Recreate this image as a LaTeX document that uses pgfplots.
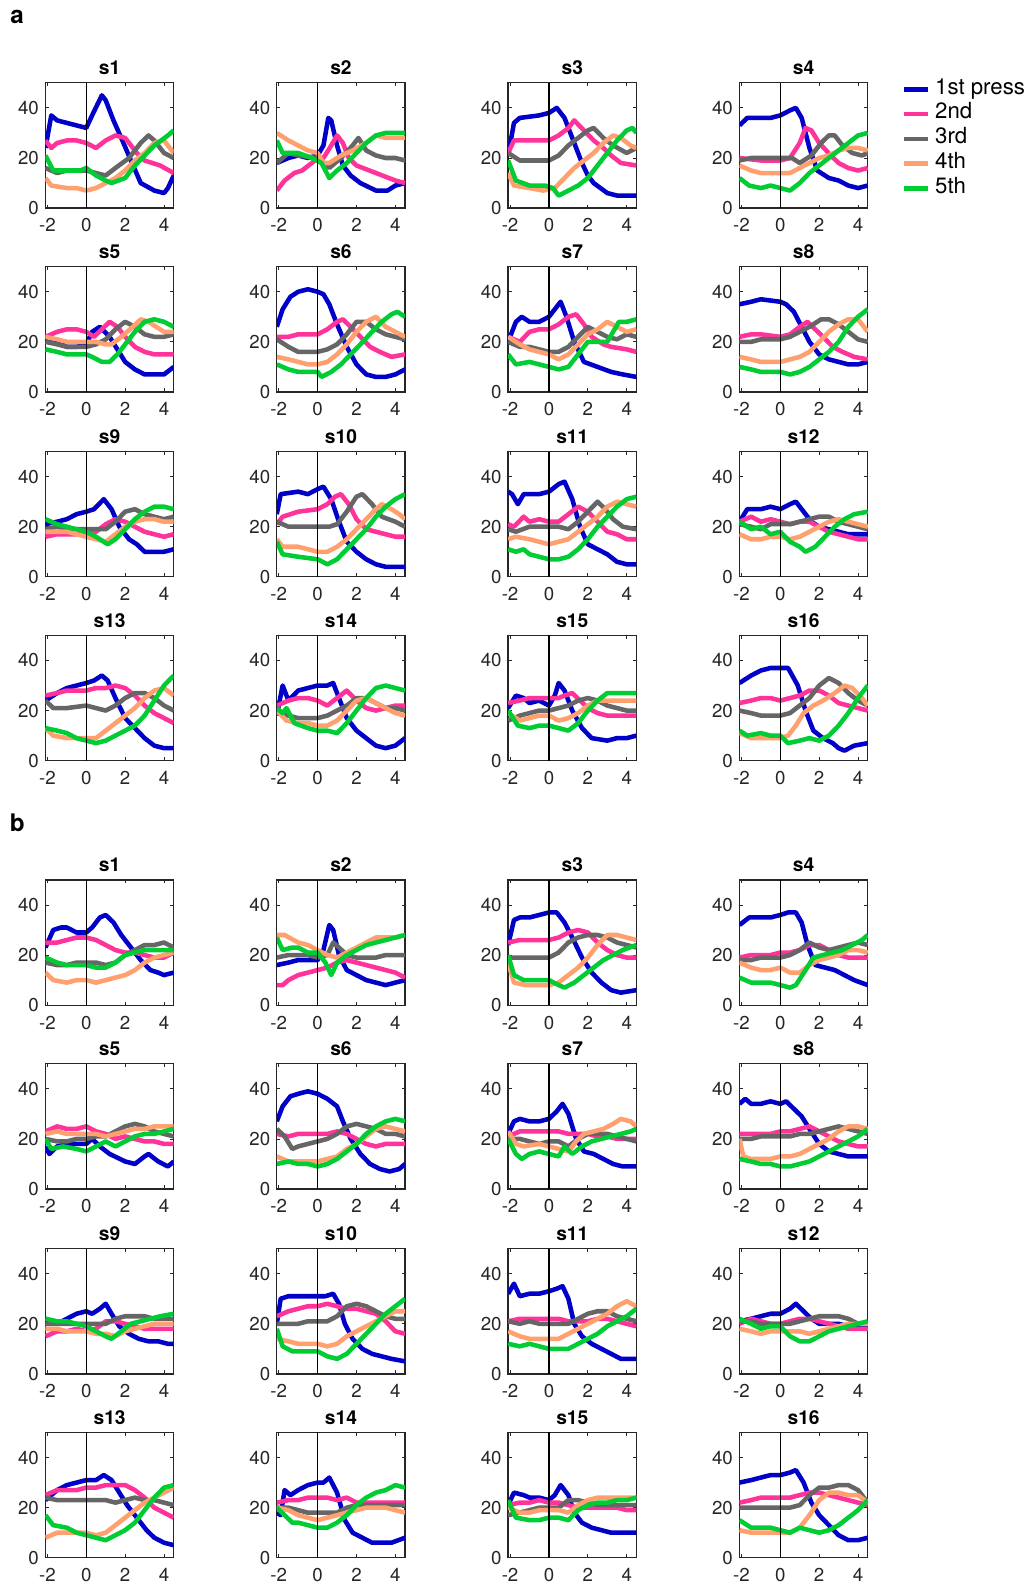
\documentclass[border=0pt]{standalone}
\usepackage{pgfplots}
\pgfplotsset{compat=1.18}
\usepackage{fontspec}
\setmainfont{TeX Gyre Heros}
\definecolor{cB}{RGB}{0,0,200}
\definecolor{cP}{RGB}{255,51,153}
\definecolor{cG}{RGB}{102,102,102}
\definecolor{cO}{RGB}{255,160,110}
\definecolor{cN}{RGB}{0,204,51}
\definecolor{cT}{RGB}{38,38,38}
\pgfplotsset{panel/.style={
 scale only axis, width=127pt, height=124pt, anchor=north west,
 xmin=-2.1, xmax=4.5, ymin=0, ymax=50,
 xtick={-2,0,2,4}, xticklabels={-2,0,2,4},
 ytick={0,20,40}, yticklabels={0,20,40},
 tick align=inside, major tick length=3.5pt,
 tick style={cT, line width=0.8pt},
 axis line style={cT, line width=1.3pt},
 ticklabel style={font=\fontsize{18.5}{18.5}\selectfont, text=cT},
 xticklabel style={yshift=-7pt},
 yticklabel style={xshift=-3pt},
 title style={font=\bfseries\fontsize{19}{19}\selectfont, at={(0.5,1)}, anchor=base, yshift=2pt},
 every axis plot/.append style={line width=4.5pt, line join=round},
}}
\newcommand{\zline}{\addplot[black, line width=1.4pt, forget plot] coordinates {(0,0) (0,50)};}
\begin{document}
\begin{tikzpicture}
\useasboundingbox (0,0) rectangle (1025pt,-1568pt);
\node[font=\bfseries\fontsize{24}{24}\selectfont] at (17pt,-17pt) {a};
\node[font=\bfseries\fontsize{24}{24}\selectfont] at (17pt,-814pt) {b};
% ---------------- a, row 1
\begin{axis}[panel, at={(45pt,-82pt)}, title={s1}]
\addplot[cB] coordinates {(-2.1,24)(-1.8,37)(-1.5,35)(-1,34)(-0.5,33)(0,32)(0.3,37)(0.8,45)(1.0,43)(1.4,35)(1.8,28)(2.3,19)(2.8,10)(3.5,7)(4,6)(4.2,8)(4.5,13)};
\addplot[cP] coordinates {(-2.1,27)(-1.8,24)(-1.5,26)(-1,27)(-0.5,27)(0,26)(0.5,24)(1,27)(1.5,29)(2,28)(2.6,22)(3,19)(3.8,17)(4.5,14)};
\addplot[cG] coordinates {(-2.1,16)(-1.5,14)(-1,15)(0,15)(0.5,14)(1,13)(1.5,16)(2.2,20)(2.8,26)(3.2,29)(3.5,27)(4,22)(4.5,20)};
\addplot[cO] coordinates {(-2.1,12)(-1.8,9)(-1,8)(-0.5,8)(0,7)(0.5,8)(1,10)(1.5,12)(2,15)(2.5,19)(3,22)(3.5,26)(4,27)(4.5,22)};
\addplot[cN] coordinates {(-2.1,21)(-1.7,15)(-1,15)(-0.3,15)(0,16)(0.5,13)(1,11)(1.3,10)(2,12)(2.5,17)(3,21)(3.5,25)(4.2,29)(4.5,31)};
\zline
\end{axis}
\begin{axis}[panel, at={(274pt,-82pt)}, title={s2}]
\addplot[cB] coordinates {(-2.1,18)(-1.5,20)(-1,21)(-0.5,20)(0,21)(0.3,25)(0.55,36)(0.7,35)(1,25)(1.3,17)(1.7,13)(2.2,10)(3,7)(3.6,7)(4,9)(4.5,10)};
\addplot[cP] coordinates {(-2.1,7)(-1.7,11)(-1.2,14)(-0.8,15)(-0.3,18)(0,20)(0.3,20)(0.7,25)(1,29)(1.3,26)(1.6,20)(2,17)(3,14)(4,11)(4.5,10)};
\addplot[cG] coordinates {(-2.1,18)(-1.5,22)(-1,21)(0,20)(0.3,18)(0.6,16)(1.2,20)(1.8,25)(2.1,28)(2.5,23)(3,21)(3.5,20)(4,20)(4.5,19)};
\addplot[cO] coordinates {(-2.1,30)(-1.5,27)(-1,25)(-0.5,23)(0,22)(0.3,18)(0.6,18)(1.2,21)(1.8,23)(2.5,26)(3,29)(3.5,28)(4.5,28)};
\addplot[cN] coordinates {(-2.1,27)(-1.8,22)(-1,22)(-0.3,20)(0.2,18)(0.6,12)(1,15)(1.5,18)(2,22)(2.5,26)(3,29)(3.5,30)(4.5,30)};
\zline
\end{axis}
\begin{axis}[panel, at={(503pt,-82pt)}, title={s3}]
\addplot[cB] coordinates {(-2.1,21)(-1.8,34)(-1.5,36)(-0.5,37)(0,38)(0.4,40)(0.8,36)(1.2,28)(1.7,18)(2,13)(2.3,10)(3,6)(3.5,5)(4.5,5)};
\addplot[cP] coordinates {(-2.1,22)(-1.8,27)(-1,27)(-0.5,27)(0,27)(0.5,29)(1,32)(1.3,35)(1.8,31)(2.3,27)(2.8,24)(3.2,21)(3.7,18)(4.5,17)};
\addplot[cG] coordinates {(-2.1,22)(-1.5,19)(-0.5,19)(0,19)(0.5,21)(1,25)(1.5,28)(2,31)(2.3,32)(2.8,28)(3.3,25)(4,22)(4.5,24)};
\addplot[cO] coordinates {(-2.1,14)(-1.8,9)(-1,8)(-0.3,7)(0.3,8)(0.8,12)(1.3,16)(1.8,19)(2.3,22)(2.8,26)(3.3,29)(3.7,28)(4.2,25)(4.5,24)};
\addplot[cN] coordinates {(-2.1,19)(-1.7,11)(-1,9)(-0.2,9)(0.2,8)(0.5,5)(1,7)(1.5,9)(2,12)(2.5,17)(3,22)(3.5,27)(4,31)(4.3,32)(4.5,30)};
\zline
\end{axis}
\begin{axis}[panel, at={(732pt,-82pt)}, title={s4},
 legend style={at={(1,1)}, anchor=north west, xshift=33pt, yshift=6pt, draw=none, fill=none,
   font=\fontsize{22}{22}\selectfont, inner sep=0pt, row sep=0pt, column sep=4pt,
   nodes={inner sep=1pt, text height=16pt, text depth=6.5pt}},
 legend cell align=left,
 legend image code/.code={\draw[#1, line width=4.5pt] (0pt,0pt) -- (24pt,0pt);}]
\addplot[cB] coordinates {(-2.1,33)(-1.7,36)(-1,36)(-0.5,36)(0,37)(0.5,39)(0.8,40)(1.1,36)(1.5,24)(1.9,15)(2.5,12)(3,11)(3.5,9)(4,8)(4.5,9)};
\addlegendentry{1st press}
\addplot[cP] coordinates {(-2.1,20)(-1,19)(0,19)(0.5,20)(1,26)(1.3,32)(1.6,31)(2,26)(2.6,21)(3,18)(3.5,16)(4,15)(4.5,16)};
\addlegendentry{2nd}
\addplot[cG] coordinates {(-2.1,19)(-1.5,20)(-1,20)(0,20)(0.6,20)(1,18)(1.6,21)(2.1,26)(2.5,29)(2.8,29)(3.2,25)(3.7,22)(4.2,21)(4.5,22)};
\addlegendentry{3rd}
\addplot[cO] coordinates {(-2.1,17)(-1.5,15)(-1,14)(0,14)(0.5,14)(1,16)(1.5,18)(2,20)(2.5,21)(3,23)(3.5,24)(4,24)(4.5,23)};
\addlegendentry{4th}
\addplot[cN] coordinates {(-2.1,12)(-1.6,9)(-1,8)(-0.5,9)(0,8)(0.5,7)(1,10)(1.5,14)(2,17)(2.5,20)(3,23)(3.5,26)(4,29)(4.5,30)};
\addlegendentry{5th}
\zline
\end{axis}
% ---------------- a, row 2
\begin{axis}[panel, at={(45pt,-264pt)}, title={s5}]
\addplot[cB] coordinates {(-2.1,21)(-1.5,20)(-1,18)(-0.5,18)(0,19)(0.3,24)(0.7,26)(1.2,22)(1.6,17)(2,12)(2.5,9)(3,7)(3.5,7)(4,7)(4.5,10)};
\addplot[cP] coordinates {(-2.1,22)(-1.5,24)(-1,25)(-0.5,25)(0,24)(0.4,22)(0.8,25)(1.2,28)(1.6,26)(2,22)(2.5,18)(3,16)(3.5,15)(4.5,15)};
\addplot[cG] coordinates {(-2.1,20)(-1.5,19)(-1,18)(0,18)(0.5,19)(1,21)(1.5,25)(2,28)(2.5,26)(3,23)(3.5,22)(4,22)(4.5,23)};
\addplot[cO] coordinates {(-2.1,22)(-1.5,21)(-1,20)(0,20)(0.5,20)(1,19)(1.3,19)(1.8,22)(2.4,26)(2.8,29)(3.2,28)(3.6,26)(4,24)(4.5,24)};
\addplot[cN] coordinates {(-2.1,17)(-1.5,16)(-1,15)(0,15)(0.3,14)(0.8,12)(1.2,12)(1.6,15)(2,19)(2.5,24)(3,28)(3.5,29)(4,28)(4.5,26)};
\zline
\end{axis}
\begin{axis}[panel, at={(274pt,-264pt)}, title={s6}]
\addplot[cB] coordinates {(-2.1,26)(-1.8,33)(-1.4,38)(-1,40)(-0.5,41)(0,40)(0.3,39)(0.6,35)(1,27)(1.5,18)(2,11)(2.5,7)(3,6)(3.5,6)(4,7)(4.5,9)};
\addplot[cP] coordinates {(-2.1,22)(-1.5,22)(-1,23)(0,23)(0.5,25)(1,28)(1.3,29)(1.7,26)(2.2,22)(2.7,18)(3.2,16)(3.8,14)(4.5,15)};
\addplot[cG] coordinates {(-2.1,21)(-1.5,18)(-1,16)(0,16)(0.5,17)(1,19)(1.5,23)(2,28)(2.5,28)(3,25)(3.5,23)(4,22)(4.5,21)};
\addplot[cO] coordinates {(-2.1,14)(-1.5,13)(-1,12)(-0.5,11)(0,11)(0.5,12)(1,15)(1.5,19)(2,24)(2.5,28)(3,30)(3.5,26)(4,24)(4.5,22)};
\addplot[cN] coordinates {(-2.1,11)(-1.5,9)(-1,8)(0,8)(0.2,6)(0.7,8)(1.2,11)(1.7,15)(2.2,19)(2.8,24)(3.3,28)(3.8,31)(4.1,32)(4.5,30)};
\zline
\end{axis}
\begin{axis}[panel, at={(503pt,-264pt)}, title={s7}]
\addplot[cB] coordinates {(-2.1,20)(-1.7,28)(-1.4,30)(-1,28)(-0.5,28)(0,30)(0.4,34)(0.6,36)(0.9,30)(1.3,20)(1.8,12)(2.5,10)(3.2,8)(3.8,7)(4.5,6)};
\addplot[cP] coordinates {(-2.1,22)(-1.5,20)(-1,24)(-0.5,25)(0,25)(0.5,27)(1,30)(1.4,31)(1.8,27)(2.2,22)(2.8,19)(3.2,18)(4,17)(4.5,16)};
\addplot[cG] coordinates {(-2.1,20)(-1.5,18)(-1,18)(-0.5,17)(0,16)(0.5,16)(1,18)(1.5,22)(2,26)(2.5,24)(3,22)(3.5,21)(4,23)(4.5,22)};
\addplot[cO] coordinates {(-2.1,22)(-1.5,19)(-1,17)(-0.5,16)(0,15)(0.5,13)(1,15)(1.5,19)(2,23)(2.5,25)(3,28)(3.5,26)(4,24)(4.5,25)};
\addplot[cN] coordinates {(-2.1,15)(-1.7,11)(-1,12)(-0.5,11)(0,10)(0.5,9)(1,10)(1.5,15)(2,20)(2.5,20)(3,20)(3.3,24)(3.6,28)(4,28)(4.5,29)};
\zline
\end{axis}
\begin{axis}[panel, at={(732pt,-264pt)}, title={s8}]
\addplot[cB] coordinates {(-2.1,35)(-1.5,36)(-1,37)(0,36)(0.3,35)(0.7,32)(1.1,26)(1.5,20)(2,15)(2.5,13)(3,12)(3.5,11)(4,11)(4.5,12)};
\addplot[cP] coordinates {(-2.1,22)(-1.5,23)(-1,23)(0,22)(0.5,23)(1,26)(1.4,28)(1.8,25)(2.2,22)(2.7,18)(3.2,16)(3.8,14)(4.5,13)};
\addplot[cG] coordinates {(-2.1,20)(-1.5,20)(-1,21)(0,21)(0.5,22)(1,24)(1.5,26)(2.1,29)(2.5,29)(3,27)(3.5,24)(4,21)(4.5,20)};
\addplot[cO] coordinates {(-2.1,14)(-1.5,13)(-1,12)(0,12)(0.5,13)(1,14)(1.5,16)(2,20)(2.5,24)(3,27)(3.5,29)(4,29)(4.5,24)};
\addplot[cN] coordinates {(-2.1,10)(-1.5,9)(-1,8)(0,8)(0.5,7)(1,8)(1.5,10)(2,13)(2.5,16)(3,20)(3.5,26)(4,30)(4.5,33)};
\zline
\end{axis}
% ---------------- a, row 3
\begin{axis}[panel, at={(45pt,-447pt)}, title={s9}]
\addplot[cB] coordinates {(-2.1,21)(-1.5,22)(-1,23)(-0.5,25)(0,26)(0.4,27)(0.9,31)(1.3,27)(1.7,20)(2.2,15)(2.6,13)(3,10)(3.5,10)(4,10)(4.5,11)};
\addplot[cP] coordinates {(-2.1,16)(-1.5,17)(-1,17)(0,17)(0.5,18)(1,21)(1.5,23)(2,22)(2.5,20)(3,18)(3.5,17)(4,16)(4.5,17)};
\addplot[cG] coordinates {(-2.1,19)(-1.5,20)(-1,19)(0,19)(0.5,19)(1,19)(1.5,22)(2,26)(2.5,27)(3,25)(3.5,24)(4,23)(4.5,24)};
\addplot[cO] coordinates {(-2.1,18)(-1.5,18)(-1,18)(-0.5,17)(0,16)(0.5,15)(1,14)(1.5,17)(2,20)(2.5,22)(3,23)(3.5,23)(4,22)(4.5,22)};
\addplot[cN] coordinates {(-2.1,23)(-1.5,21)(-1,20)(-0.5,19)(0,18)(0.5,16)(1.1,13)(1.5,15)(2,19)(2.5,23)(3,26)(3.5,28)(4,28)(4.5,27)};
\zline
\end{axis}
\begin{axis}[panel, at={(274pt,-447pt)}, title={s10}]
\addplot[cB] coordinates {(-2.1,25)(-1.9,33)(-1,34)(-0.5,33)(0,35)(0.3,36)(0.7,31)(1.1,22)(1.5,14)(2,10)(2.5,7)(3,5)(3.5,4)(4.5,4)};
\addplot[cP] coordinates {(-2.1,21)(-1.8,24)(-1,26)(0,27)(0.5,29)(0.9,32)(1.2,33)(1.6,29)(2,23)(2.5,19)(3,18)(3.5,17)(4,16)(4.5,16)};
\addplot[cG] coordinates {(-2.1,22)(-1.5,20)(-1,20)(0,20)(0.6,20)(1,21)(1.5,26)(2,32)(2.3,33)(2.8,29)(3.3,24)(4,22)(4.5,20)};
\addplot[cO] coordinates {(-2.1,15)(-1.8,12)(-1,12)(-0.5,11)(0,10)(0.5,10)(1,12)(1.5,15)(2,19)(2.5,23)(3,27)(3.3,29)(3.8,27)(4.2,25)(4.5,23)};
\addplot[cN] coordinates {(-2.1,14)(-1.8,9)(-1,8)(0,7)(0.5,5)(1,7)(1.5,11)(2,15)(2.5,19)(3,24)(3.5,28)(4,31)(4.5,33)};
\zline
\end{axis}
\begin{axis}[panel, at={(503pt,-447pt)}, title={s11}]
\addplot[cB] coordinates {(-2.1,34)(-1.9,33)(-1.6,29)(-1.3,33)(-0.5,33)(0,34)(0.5,37)(0.8,38)(1.2,31)(1.6,20)(2,13)(2.5,11)(3,9)(3.5,6)(4,5)(4.5,5)};
\addplot[cP] coordinates {(-2.1,21)(-1.8,20)(-1.3,24)(-1,22)(-0.5,23)(0,22)(0.5,22)(1,25)(1.5,28)(2,26)(2.5,22)(3,18)(3.5,17)(4,15)(4.5,15)};
\addplot[cG] coordinates {(-2.1,19)(-1.7,18)(-1,20)(0,20)(0.5,20)(1,19)(1.5,22)(2,26)(2.5,30)(2.9,27)(3.3,23)(3.8,20)(4.5,19)};
\addplot[cO] coordinates {(-2.1,15)(-1.7,16)(-1,15)(-0.5,14)(0,13)(0.5,14)(1,15)(1.5,18)(2,21)(2.5,24)(3,28)(3.5,30)(4,29)(4.5,28)};
\addplot[cN] coordinates {(-2.1,11)(-1.7,10)(-1.3,11)(-1,9)(-0.5,8)(0,7)(0.5,7)(1,8)(1.5,11)(2,15)(2.5,20)(3,24)(3.5,28)(4,31)(4.5,32)};
\zline
\end{axis}
\begin{axis}[panel, at={(732pt,-447pt)}, title={s12}]
\addplot[cB] coordinates {(-2.1,22)(-1.7,27)(-1,27)(-0.5,28)(0,27)(0.5,29)(0.8,30)(1.2,26)(1.6,22)(2,20)(2.5,19)(3,18)(3.5,17)(4.5,17)};
\addplot[cP] coordinates {(-2.1,22)(-1.5,24)(-1,22)(-0.5,23)(0,22)(0.5,21)(1,22)(1.5,22)(2,20)(2.5,18)(3,17)(3.5,16)(4,15)(4.5,15)};
\addplot[cG] coordinates {(-2.1,21)(-1.5,20)(-1,19)(-0.5,21)(0,21)(0.5,21)(1,22)(1.5,23)(2,24)(2.5,24)(3,22)(3.5,21)(4,20)(4.5,19)};
\addplot[cO] coordinates {(-2.1,17)(-1.5,15)(-1,15)(-0.5,16)(0,16)(0.5,15)(1,16)(1.5,18)(2,20)(2.5,22)(3,23)(3.5,22)(4,21)(4.5,20)};
\addplot[cN] coordinates {(-2.1,22)(-1.5,19)(-1,20)(-0.5,17)(0,18)(0.5,14)(1,12)(1.3,10)(1.8,12)(2.3,16)(2.8,20)(3.3,23)(3.8,25)(4.5,26)};
\zline
\end{axis}
% ---------------- a, row 4
\begin{axis}[panel, at={(45pt,-629pt)}, title={s13}]
\addplot[cB] coordinates {(-2.1,24)(-1.5,27)(-1,29)(-0.5,30)(0,31)(0.4,32)(0.8,34)(1.1,32)(1.5,25)(2,17)(2.5,13)(3,9)(3.5,6)(4,5)(4.5,5)};
\addplot[cP] coordinates {(-2.1,26)(-1.5,27)(-1,28)(0,28)(0.5,29)(1,29)(1.5,30)(2,29)(2.5,26)(3,22)(3.5,19)(4,17)(4.5,15)};
\addplot[cG] coordinates {(-2.1,24)(-1.7,21)(-1,21)(0,22)(0.5,21)(1,20)(1.5,22)(2,25)(2.5,27)(3,27)(3.5,25)(4,22)(4.5,20)};
\addplot[cO] coordinates {(-2.1,13)(-1.7,10)(-1,9)(0,9)(0.5,9)(1,12)(1.5,15)(2,18)(2.5,21)(3,25)(3.5,28)(4,29)(4.5,26)};
\addplot[cN] coordinates {(-2.1,13)(-1.5,12)(-1,11)(-0.5,9)(0,8)(0.5,7)(1,8)(1.5,10)(2,12)(2.5,14)(3,18)(3.5,24)(4,30)(4.5,34)};
\zline
\end{axis}
\begin{axis}[panel, at={(274pt,-629pt)}, title={s14}]
\addplot[cB] coordinates {(-2.1,18)(-1.8,30)(-1.5,24)(-1,28)(-0.5,29)(0,30)(0.5,30)(0.8,31)(1.1,25)(1.5,17)(2,12)(2.5,9)(3,6)(3.5,5)(4,6)(4.5,9)};
\addplot[cP] coordinates {(-2.1,22)(-1.5,24)(-1,25)(-0.5,25)(0,24)(0.5,22)(1,25)(1.5,28)(2,24)(2.5,21)(3,20)(3.5,21)(4,22)(4.5,22)};
\addplot[cG] coordinates {(-2.1,19)(-1.5,18)(-1,17)(0,17)(0.5,18)(1,20)(1.5,22)(2,25)(2.5,25)(3,23)(3.5,21)(4,21)(4.5,20)};
\addplot[cO] coordinates {(-2.1,20)(-1.6,16)(-1,15)(-0.5,15)(0,14)(0.5,14)(1,16)(1.5,20)(2,24)(2.5,25)(3,23)(3.5,21)(4,19)(4.5,18)};
\addplot[cN] coordinates {(-2.1,21)(-1.8,19)(-1.6,21)(-1.2,15)(-0.5,13)(0,12)(0.5,12)(1,11)(1.5,15)(2,20)(2.5,25)(3,29)(3.5,30)(4,29)(4.5,28)};
\zline
\end{axis}
\begin{axis}[panel, at={(503pt,-629pt)}, title={s15}]
\addplot[cB] coordinates {(-2.1,21)(-1.7,26)(-1.3,25)(-1,23)(-0.5,24)(0,22)(0.3,26)(0.5,31)(0.8,28)(1.2,20)(1.7,13)(2.2,9)(3,8)(3.5,9)(4,9)(4.5,10)};
\addplot[cP] coordinates {(-2.1,23)(-1.5,24)(-1,25)(0,25)(0.5,25)(0.8,26)(1.2,27)(1.6,24)(2,21)(2.5,19)(3,18)(4.5,18)};
\addplot[cG] coordinates {(-2.1,16)(-1.5,18)(-1,19)(-0.5,20)(0,20)(0.5,21)(1,22)(1.5,24)(2,25)(2.5,24)(3,22)(3.5,21)(4,20)(4.5,20)};
\addplot[cO] coordinates {(-2.1,19)(-1.5,16)(-1,17)(-0.5,18)(0,18)(0.5,16)(1,17)(1.5,19)(2,22)(2.5,24)(4.5,24)};
\addplot[cN] coordinates {(-2.1,20)(-1.6,14)(-1,13)(-0.5,14)(0,14)(0.5,13)(1,12)(1.5,15)(2,20)(2.5,24)(3,27)(4.5,27)};
\zline
\end{axis}
\begin{axis}[panel, at={(732pt,-629pt)}, title={s16}]
\addplot[cB] coordinates {(-2.1,31)(-1.5,34)(-1,36)(-0.5,37)(0,37)(0.4,37)(0.9,30)(1.3,20)(1.7,12)(2.2,9)(2.7,7)(3,5)(3.3,4)(3.8,6)(4.5,7)};
\addplot[cP] coordinates {(-2.1,23)(-1.5,24)(-1,25)(-0.5,25)(0,24)(0.5,25)(1,26)(1.5,28)(2,28)(2.5,26)(3,23)(3.5,22)(4,21)(4.5,20)};
\addplot[cG] coordinates {(-2.1,20)(-1.5,19)(-1,18)(0,18)(0.5,19)(1,22)(1.5,25)(2,30)(2.5,33)(3,31)(3.5,27)(4,24)(4.5,22)};
\addplot[cO] coordinates {(-2.1,11)(-1.5,9)(-1,9)(0,9)(0.4,10)(0.8,14)(1.2,19)(1.7,22)(2.2,24)(2.8,27)(3.3,30)(3.7,29)(4.2,25)(4.5,22)};
\addplot[cN] coordinates {(-2.1,12)(-1.7,10)(-1,11)(-0.5,10)(0,10)(0.4,7)(1,8)(1.5,9)(2,8)(2.5,10)(3,14)(3.5,19)(4,25)(4.5,30)};
\zline
\end{axis}
% ---------------- b, row 1
\begin{axis}[panel, at={(45pt,-871pt)}, title={s1}]
\addplot[cB] coordinates {(-2.1,23)(-1.7,30)(-1.3,31)(-1,31)(-0.5,29)(0,29)(0.3,31)(0.7,35)(1,36)(1.4,33)(1.8,28)(2.3,23)(2.8,18)(3.3,14)(3.7,13)(4,12)(4.5,13)};
\addplot[cP] coordinates {(-2.1,25)(-1.5,25)(-1,26)(-0.5,27)(0,27)(0.5,26)(1,24)(1.5,22)(2,21)(2.5,21)(3,20)(3.5,19)(4,19)(4.5,21)};
\addplot[cG] coordinates {(-2.1,17)(-1.5,16)(-1,16)(-0.5,17)(0,17)(0.5,17)(1,16)(1.5,17)(2,20)(2.5,22)(3,24)(3.5,24)(4,25)(4.5,23)};
\addplot[cO] coordinates {(-2.1,13)(-1.7,10)(-1,9)(-0.5,10)(0,10)(0.5,9)(1,10)(1.5,11)(2,12)(2.5,14)(3,17)(3.5,19)(4,20)(4.5,21)};
\addplot[cN] coordinates {(-2.1,19)(-1.5,17)(-1,16)(-0.5,16)(0,16)(0.5,15)(1,15)(1.5,17)(2,20)(2.5,21)(3,22)(3.5,22)(4,22)(4.5,22)};
\zline
\end{axis}
\begin{axis}[panel, at={(274pt,-871pt)}, title={s2}]
\addplot[cB] coordinates {(-2.1,16)(-1.5,17)(-1,18)(-0.5,18)(0,18)(0.3,22)(0.6,32)(0.8,30)(1.1,20)(1.5,14)(2,12)(2.5,10)(3,9)(3.5,8)(4,9)(4.5,10)};
\addplot[cP] coordinates {(-2.1,8)(-1.8,8)(-1.5,10)(-1,12)(-0.5,13)(0,14)(0.5,15)(1,17)(1.5,18)(2,17)(2.5,16)(3,15)(3.5,14)(4,13)(4.5,11)};
\addplot[cG] coordinates {(-2.1,19)(-1.5,20)(-1,20)(-0.5,20)(0,19)(0.5,20)(0.8,25)(1.1,23)(1.5,20)(2,19)(2.5,19)(3,19)(3.5,20)(4,20)(4.5,20)};
\addplot[cO] coordinates {(-2.1,28)(-1.7,28)(-1,25)(-0.5,24)(0,22)(0.5,20)(1,19)(1.5,21)(2,23)(2.5,25)(3,27)(3.5,27)(4,27)(4.5,28)};
\addplot[cN] coordinates {(-2.1,27)(-1.8,22)(-1.3,23)(-1,23)(-0.5,21)(0,21)(0.4,17)(0.7,12)(1,17)(1.5,20)(2,22)(2.5,24)(3,25)(3.5,26)(4,27)(4.5,28)};
\zline
\end{axis}
\begin{axis}[panel, at={(503pt,-871pt)}, title={s3}]
\addplot[cB] coordinates {(-2.1,24)(-1.8,34)(-1.5,35)(-1,35)(-0.5,36)(0,37)(0.4,37)(0.8,33)(1.2,27)(1.7,19)(2.2,13)(2.7,9)(3.2,6)(3.7,5)(4.5,6)};
\addplot[cP] coordinates {(-2.1,25)(-1.5,26)(-1,26)(-0.5,26)(0,26)(0.5,27)(1,29)(1.5,30)(2,29)(2.5,25)(3,22)(3.5,20)(4,19)(4.5,19)};
\addplot[cG] coordinates {(-2.1,19)(-1.5,19)(-1,19)(-0.5,19)(0,19)(0.5,21)(1,25)(1.5,27)(2,28)(2.5,28)(3,27)(3.5,25)(4,24)(4.5,23)};
\addplot[cO] coordinates {(-2.1,17)(-1.8,9)(-1.2,8)(-0.5,8)(0,8)(0.5,9)(1,12)(1.5,15)(2,19)(2.5,24)(3,28)(3.5,28)(4,27)(4.5,26)};
\addplot[cN] coordinates {(-2.1,20)(-1.8,12)(-1.3,10)(-0.5,10)(0,10)(0.5,8)(0.8,7)(1.3,9)(1.8,12)(2.3,15)(2.8,18)(3.3,20)(3.8,22)(4.5,24)};
\zline
\end{axis}
\begin{axis}[panel, at={(732pt,-871pt)}, title={s4}]
\addplot[cB] coordinates {(-2.1,32)(-1.6,35)(-1,35)(-0.5,35)(0,36)(0.4,37)(0.8,37)(1.1,33)(1.4,24)(1.8,16)(2.3,15)(2.8,14)(3.3,12)(3.8,10)(4.5,8)};
\addplot[cP] coordinates {(-2.1,19)(-1.5,20)(-1,20)(-0.5,20)(0,21)(0.5,21)(1,22)(1.5,24)(2,24)(2.5,22)(3,20)(3.5,19)(4,19)(4.5,19)};
\addplot[cG] coordinates {(-2.1,18)(-1.5,18)(-1,19)(-0.5,19)(0,19)(0.5,20)(1,22)(1.5,25)(2,23)(2.5,22)(3,23)(3.5,24)(4,25)(4.5,24)};
\addplot[cO] coordinates {(-2.1,17)(-1.5,15)(-1,14)(-0.5,14)(0,15)(0.5,13)(1,13)(1.5,16)(2,18)(2.5,19)(3,20)(3.5,22)(4,22)(4.5,21)};
\addplot[cN] coordinates {(-2.1,11)(-1.5,9)(-1,9)(-0.5,9)(0,8)(0.5,7)(0.8,8)(1.3,14)(1.7,19)(2.2,20)(2.7,21)(3.2,22)(3.7,24)(4.2,26)(4.5,28)};
\zline
\end{axis}
% ---------------- b, row 2
\begin{axis}[panel, at={(45pt,-1053pt)}, title={s5}]
\addplot[cB] coordinates {(-2.1,17)(-1.9,14)(-1.5,17)(-1,18)(-0.5,18)(0,18)(0.3,20)(0.7,17)(1.2,14)(2,11)(2.5,10)(3,13)(3.2,14)(3.7,11)(4.2,9)(4.5,11)};
\addplot[cP] coordinates {(-2.1,23)(-1.5,25)(-1,24)(-0.5,24)(0,25)(0.5,23)(1,22)(1.5,20)(2,21)(2.5,20)(3,19)(3.5,19)(4,18)(4.5,18)};
\addplot[cG] coordinates {(-2.1,20)(-1.5,19)(-1,19)(-0.5,20)(0,20)(0.5,21)(1,21)(1.5,23)(2,25)(2.5,26)(3,25)(3.5,23)(4,22)(4.5,21)};
\addplot[cO] coordinates {(-2.1,22)(-1.5,23)(-1,22)(-0.5,22)(0,22)(0.5,22)(1,21)(1.5,22)(2,23)(2.5,24)(3,24)(3.5,25)(4,25)(4.5,25)};
\addplot[cN] coordinates {(-2.1,20)(-1.8,16)(-1.2,17)(-0.5,16)(0,15)(0.5,17)(1,19)(1.5,17)(2,19)(2.5,21)(3,22)(3.5,22)(4,23)(4.5,24)};
\zline
\end{axis}
\begin{axis}[panel, at={(274pt,-1053pt)}, title={s6}]
\addplot[cB] coordinates {(-2.1,27)(-1.8,33)(-1.4,37)(-1,38)(-0.5,39)(0,38)(0.5,36)(1,33)(1.3,27)(1.7,20)(2.2,14)(2.7,10)(3.2,8)(3.7,7)(4.2,8)(4.5,10)};
\addplot[cP] coordinates {(-2.1,22)(-1.5,21)(-1,22)(-0.5,22)(0,22)(0.5,22)(1,23)(1.5,22)(2,20)(2.5,18)(3,17)(3.5,18)(4,18)(4.5,18)};
\addplot[cG] coordinates {(-2.1,24)(-1.7,21)(-1.3,16)(-1,17)(-0.5,18)(0,19)(0.5,20)(1,22)(1.5,25)(2,26)(2.5,25)(3,24)(3.5,22)(4,22)(4.5,21)};
\addplot[cO] coordinates {(-2.1,13)(-1.5,11)(-1,11)(-0.5,11)(0,11)(0.5,12)(1,13)(1.5,16)(2,18)(2.5,21)(3,24)(3.5,25)(4,24)(4.5,23)};
\addplot[cN] coordinates {(-2.1,10)(-1.5,11)(-1,10)(-0.5,10)(0,9)(0.5,10)(1,12)(1.5,15)(2,18)(2.5,22)(3,25)(3.5,27)(4,28)(4.5,27)};
\zline
\end{axis}
\begin{axis}[panel, at={(503pt,-1053pt)}, title={s7}]
\addplot[cB] coordinates {(-2.1,22)(-1.8,27)(-1.5,28)(-1,27)(-0.5,27)(0,28)(0.4,31)(0.7,34)(1,30)(1.4,20)(1.8,15)(2.3,14)(2.8,12)(3.3,10)(3.8,9)(4.5,9)};
\addplot[cP] coordinates {(-2.1,21)(-1.5,23)(-1,23)(-0.5,23)(0,23)(0.5,23)(1,22)(1.5,22)(2,22)(2.5,21)(3,21)(3.5,20)(4,20)(4.5,20)};
\addplot[cG] coordinates {(-2.1,20)(-1.5,20)(-1,19)(-0.5,18)(0,19)(0.5,19)(1,17)(1.5,20)(2,22)(2.5,22)(3,22)(3.5,21)(4,20)(4.5,19)};
\addplot[cO] coordinates {(-2.1,23)(-1.7,18)(-1.3,17)(-0.5,18)(0,17)(0.5,16)(1,15)(1.4,19)(1.8,22)(2.3,23)(2.8,24)(3.3,26)(3.7,28)(4.2,27)(4.5,25)};
\addplot[cN] coordinates {(-2.1,20)(-1.7,14)(-1.4,12)(-1,14)(-0.5,15)(0,14)(0.5,13)(0.8,17)(1.2,14)(1.7,17)(2.2,19)(2.7,20)(3.2,21)(3.7,22)(4.2,23)(4.5,24)};
\zline
\end{axis}
\begin{axis}[panel, at={(732pt,-1053pt)}, title={s8}]
\addplot[cB] coordinates {(-2.1,34)(-1.8,36)(-1.5,34)(-1,34)(-0.5,35)(0,34)(0.3,35)(0.7,32)(1.1,29)(1.5,24)(2,18)(2.5,15)(3,14)(3.5,13)(4,13)(4.5,13)};
\addplot[cP] coordinates {(-2.1,22)(-1.5,22)(-1,22)(-0.5,22)(0,23)(0.5,23)(1,24)(1.5,25)(2,23)(2.5,21)(3,19)(3.5,18)(4,17)(4.5,17)};
\addplot[cG] coordinates {(-2.1,20)(-1.5,20)(-1,21)(-0.5,21)(0,21)(0.5,21)(1,22)(1.5,22)(2,23)(2.5,24)(3,25)(3.5,24)(4,23)(4.5,22)};
\addplot[cO] coordinates {(-2.1,20)(-1.9,13)(-1.5,12)(-1,12)(-0.5,12)(0,13)(0.5,13)(1,14)(1.5,16)(2,18)(2.5,20)(3,23)(3.5,25)(4,25)(4.5,24)};
\addplot[cN] coordinates {(-2.1,12)(-1.5,11)(-1,10)(-0.5,10)(0,9)(0.5,9)(1,10)(1.5,11)(2,13)(2.5,15)(3,17)(3.5,19)(4,21)(4.5,24)};
\zline
\end{axis}
% ---------------- b, row 3
\begin{axis}[panel, at={(45pt,-1236pt)}, title={s9}]
\addplot[cB] coordinates {(-2.1,22)(-1.5,20)(-1,22)(-0.5,24)(0,25)(0.3,24)(0.7,26)(1,28)(1.3,24)(1.7,19)(2.2,16)(2.7,14)(3.2,13)(3.7,13)(4.2,12)(4.5,12)};
\addplot[cP] coordinates {(-2.1,15)(-1.5,17)(-1,17)(-0.5,18)(0,17)(0.5,18)(1,21)(1.5,21)(2,20)(2.5,19)(3,18)(3.5,18)(4,18)(4.5,18)};
\addplot[cG] coordinates {(-2.1,20)(-1.5,20)(-1,20)(0,20)(0.5,20)(1,20)(1.5,22)(2,23)(2.5,23)(3,23)(3.5,22)(4,22)(4.5,22)};
\addplot[cO] coordinates {(-2.1,18)(-1.5,18)(-1,17)(-0.5,17)(0,17)(0.5,16)(1,16)(1.5,15)(2,17)(2.5,18)(3,19)(3.5,20)(4,20)(4.5,20)};
\addplot[cN] coordinates {(-2.1,22)(-1.5,21)(-1,21)(-0.5,20)(0,19)(0.5,17)(1,15)(1.3,14)(1.8,17)(2.3,20)(2.8,21)(3.3,22)(3.8,23)(4.5,24)};
\zline
\end{axis}
\begin{axis}[panel, at={(274pt,-1236pt)}, title={s10}]
\addplot[cB] coordinates {(-2.1,20)(-1.9,30)(-1.5,31)(-1,31)(-0.5,31)(0,31)(0.4,31)(0.8,32)(1.1,28)(1.4,20)(1.8,14)(2.3,10)(2.8,8)(3.3,7)(3.8,6)(4.5,5)};
\addplot[cP] coordinates {(-2.1,23)(-1.5,25)(-1,26)(-0.5,27)(0,27)(0.5,28)(1,27)(1.5,26)(2,26)(2.5,25)(3,24)(3.5,21)(4,17)(4.5,16)};
\addplot[cG] coordinates {(-2.1,20)(-1.5,20)(-1,20)(-0.5,21)(0,21)(0.5,21)(1,23)(1.5,27)(2,28)(2.5,27)(3,25)(3.5,23)(4,22)(4.5,22)};
\addplot[cO] coordinates {(-2.1,14)(-1.5,13)(-1,12)(-0.5,12)(0,12)(0.5,11)(1,12)(1.5,15)(2,17)(2.5,19)(3,21)(3.5,23)(4,25)(4.5,25)};
\addplot[cN] coordinates {(-2.1,18)(-1.8,11)(-1.3,9)(-0.5,9)(0,9)(0.5,7)(1,6)(1.5,8)(2,12)(2.5,16)(3,20)(3.5,24)(4,27)(4.5,30)};
\zline
\end{axis}
\begin{axis}[panel, at={(503pt,-1236pt)}, title={s11}]
\addplot[cB] coordinates {(-2.1,32)(-1.8,36)(-1.5,31)(-1,32)(-0.5,32)(0,33)(0.4,34)(0.7,35)(1,30)(1.3,20)(1.7,15)(2.2,12)(2.7,10)(3.2,8)(3.7,6)(4.5,6)};
\addplot[cP] coordinates {(-2.1,21)(-1.5,22)(-1,22)(-0.5,22)(0,22)(0.5,22)(1,21)(1.5,21)(2,21)(2.5,22)(3,22)(3.5,21)(4,20)(4.5,19)};
\addplot[cG] coordinates {(-2.1,21)(-1.5,20)(-1,21)(-0.5,20)(0,20)(0.5,20)(1,20)(1.5,22)(2,24)(2.5,25)(3,25)(3.5,23)(4,22)(4.5,21)};
\addplot[cO] coordinates {(-2.1,17)(-1.5,15)(-1,14)(-0.5,14)(0,14)(0.5,14)(1,16)(1.5,18)(2,20)(2.5,22)(3,24)(3.5,27)(4,29)(4.5,27)};
\addplot[cN] coordinates {(-2.1,12)(-1.5,11)(-1,12)(-0.5,11)(0,10)(0.5,10)(1,10)(1.5,12)(2,14)(2.5,16)(3,19)(3.5,21)(4,23)(4.5,26)};
\zline
\end{axis}
\begin{axis}[panel, at={(732pt,-1236pt)}, title={s12}]
\addplot[cB] coordinates {(-2.1,21)(-1.5,22)(-1,23)(-0.5,24)(0,24)(0.5,26)(0.8,28)(1.2,25)(1.6,22)(2,20)(2.5,20)(3,20)(3.5,19)(4,19)(4.5,18)};
\addplot[cP] coordinates {(-2.1,20)(-1.5,22)(-1,21)(-0.5,20)(0,20)(0.5,21)(1,22)(1.5,22)(2,21)(2.5,20)(3,19)(3.5,18)(4,18)(4.5,18)};
\addplot[cG] coordinates {(-2.1,21)(-1.5,21)(-1,20)(-0.5,20)(0,20)(0.5,20)(1,21)(1.5,22)(2,23)(2.5,23)(3,23)(3.5,22)(4,20)(4.5,20)};
\addplot[cO] coordinates {(-2.1,18)(-1.5,17)(-1,16)(-0.5,17)(0,17)(0.5,17)(1,17)(1.5,16)(2,17)(2.5,18)(3,19)(3.5,20)(4,20)(4.5,20)};
\addplot[cN] coordinates {(-2.1,22)(-1.5,20)(-1,18)(-0.5,19)(0,19)(0.5,15)(1,13)(1.5,13)(2,15)(2.5,17)(3,18)(3.5,19)(4,20)(4.5,21)};
\zline
\end{axis}
% ---------------- b, row 4
\begin{axis}[panel, at={(45pt,-1418pt)}, title={s13}]
\addplot[cB] coordinates {(-2.1,23)(-1.5,27)(-1,29)(-0.5,30)(0,31)(0.5,31)(0.9,33)(1.3,31)(1.7,26)(2.1,21)(2.6,16)(3.1,11)(3.5,8)(4,6)(4.5,5)};
\addplot[cP] coordinates {(-2.1,25)(-1.5,27)(-1,27)(-0.5,27)(0,28)(0.5,28)(1,29)(1.5,29)(2,29)(2.5,27)(3,24)(3.5,20)(4,18)(4.5,16)};
\addplot[cG] coordinates {(-2.1,24)(-1.5,23)(-1,23)(-0.5,23)(0,23)(0.5,23)(1,23)(1.5,22)(2,23)(2.5,24)(3,23)(3.5,23)(4,22)(4.5,21)};
\addplot[cO] coordinates {(-2.1,8)(-1.5,10)(-1,10)(-0.5,10)(0,10)(0.5,9)(1,10)(1.5,13)(2,16)(2.5,19)(3,22)(3.5,24)(4,26)(4.5,28)};
\addplot[cN] coordinates {(-2.1,17)(-1.7,13)(-1,12)(-0.5,10)(0,9)(0.5,8)(1,7)(1.5,9)(2,11)(2.5,14)(3,19)(3.5,24)(4,28)(4.5,29)};
\zline
\end{axis}
\begin{axis}[panel, at={(274pt,-1418pt)}, title={s14}]
\addplot[cB] coordinates {(-2.1,18)(-1.9,17)(-1.7,27)(-1.4,25)(-1,27)(-0.5,29)(0,30)(0.3,30)(0.6,32)(1,26)(1.4,15)(1.8,10)(2.3,8)(2.8,6)(3.3,6)(3.8,6)(4.5,8)};
\addplot[cP] coordinates {(-2.1,22)(-1.5,23)(-1,23)(-0.5,24)(0,24)(0.5,24)(1,23)(1.5,24)(2,22)(2.5,22)(3,22)(3.5,22)(4,22)(4.5,22)};
\addplot[cG] coordinates {(-2.1,20)(-1.5,20)(-1,19)(-0.5,18)(0,18)(0.5,18)(1,18)(1.5,20)(2,21)(2.5,21)(3,21)(3.5,21)(4,21)(4.5,21)};
\addplot[cO] coordinates {(-2.1,20)(-1.5,19)(-1,17)(-0.5,16)(0,15)(0.5,16)(1,17)(1.5,18)(2,19)(2.5,20)(3,20)(3.5,20)(4,19)(4.5,18)};
\addplot[cN] coordinates {(-2.1,20)(-1.7,17)(-1.3,14)(-1,14)(-0.5,13)(0,12)(0.5,12)(1,14)(1.5,17)(2,21)(2.5,24)(3,26)(3.5,27)(4,29)(4.5,28)};
\zline
\end{axis}
\begin{axis}[panel, at={(503pt,-1418pt)}, title={s15}]
\addplot[cB] coordinates {(-2.1,21)(-1.8,26)(-1.3,25)(-1,24)(-0.5,24)(0,23)(0.3,25)(0.6,29)(1,25)(1.3,18)(1.7,14)(2.2,12)(2.7,11)(3.2,10)(3.7,10)(4.5,10)};
\addplot[cP] coordinates {(-2.1,21)(-1.5,22)(-1,22)(-0.5,23)(0,22)(0.5,22)(1,21)(1.5,20)(2,20)(3.5,20)(4,19)(4.5,19)};
\addplot[cG] coordinates {(-2.1,17)(-1.5,18)(-1,19)(-0.5,20)(0,20)(0.5,20)(1,23)(1.5,23)(2,22)(2.5,21)(4.5,21)};
\addplot[cO] coordinates {(-2.1,20)(-1.5,18)(-1,18)(-0.5,19)(0,19)(0.5,19)(1,18)(1.5,21)(2,23)(2.5,24)(4.5,24)};
\addplot[cN] coordinates {(-2.1,23)(-1.7,16)(-1,15)(-0.5,15)(0,16)(0.5,16)(1,15)(1.5,19)(2,21)(2.5,22)(3,22)(3.5,23)(4,23)(4.5,24)};
\zline
\end{axis}
\begin{axis}[panel, at={(732pt,-1418pt)}, title={s16}]
\addplot[cB] coordinates {(-2.1,30)(-1.5,31)(-1,32)(-0.5,33)(0,33)(0.5,34)(0.8,35)(1.2,30)(1.6,22)(2,17)(2.5,13)(3,9)(3.5,7)(4,7)(4.5,8)};
\addplot[cP] coordinates {(-2.1,22)(-1.5,23)(-1,24)(-0.5,24)(0,24)(0.5,24)(1,25)(1.5,26)(2,26)(2.5,25)(3,24)(3.5,23)(4,22)(4.5,21)};
\addplot[cG] coordinates {(-2.1,20)(-1.5,20)(-1,20)(0,20)(0.5,20)(1,21)(1.5,25)(2,28)(2.5,28)(3,29)(3.5,29)(4,27)(4.5,22)};
\addplot[cO] coordinates {(-2.1,11)(-1.5,10)(-1,10)(0,10)(0.5,10)(1,12)(1.5,17)(2,23)(2.5,26)(3,26)(3.5,25)(4,25)(4.5,22)};
\addplot[cN] coordinates {(-2.1,15)(-1.5,12)(-1,12)(-0.5,12)(0,11)(0.5,10)(1,12)(1.5,11)(2,10)(2.5,11)(3,13)(3.5,16)(4,19)(4.5,23)};
\zline
\end{axis}
\end{tikzpicture}
\end{document}
